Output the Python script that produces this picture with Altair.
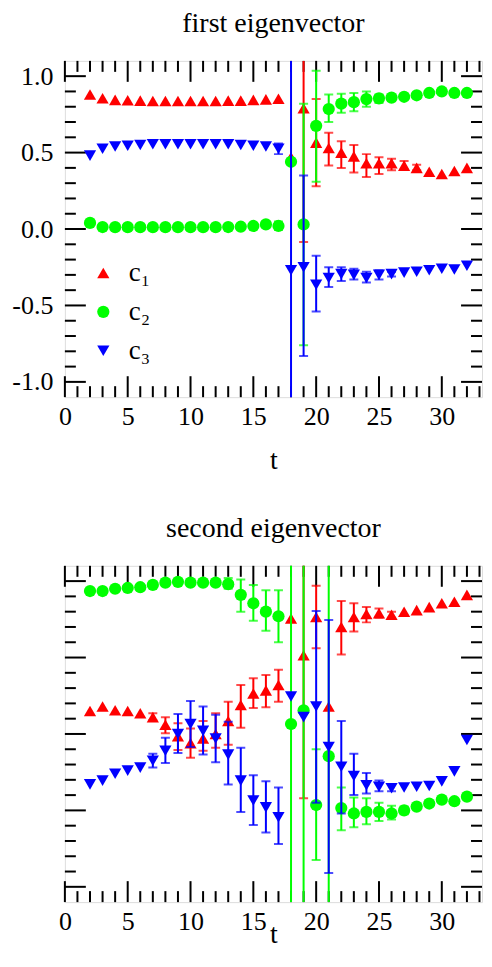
import altair as alt
import pandas as pd

# ---------------- data ----------------
T = list(range(2, 33))
SERIES = ["c₁", "c₂", "c₃"]
COLORS = ["#ff0000", "#00ff00", "#0000ff"]
SHAPES = ["triangle-up", "circle", "triangle-down"]

# first eigenvector
p1_c1 = [0.88, 0.855, 0.845, 0.842, 0.84, 0.838, 0.838, 0.838, 0.838, 0.838, 0.838, 0.84, 0.84, 0.845, 0.848, 0.852,
         0.47, 0.79, 0.565, 0.53, 0.50, 0.475, 0.43, 0.43, 0.43, 0.415, 0.40, 0.375, 0.36, 0.38, 0.40]
p1_c2 = [0.04, 0.013, 0.012, 0.012, 0.012, 0.012, 0.012, 0.012, 0.012, 0.012, 0.012, 0.013, 0.015, 0.02, 0.03, 0.02,
         0.44, 0.03, 0.675, 0.785, 0.82, 0.83, 0.85, 0.855, 0.86, 0.865, 0.875, 0.89, 0.90, 0.89, 0.89]
p1_c3 = [0.48, 0.525, 0.54, 0.545, 0.55, 0.555, 0.555, 0.555, 0.555, 0.555, 0.555, 0.555, 0.55, 0.545, 0.54, 0.525,
         -0.27, -0.25, -0.365, -0.32, -0.295, -0.30, -0.32, -0.30, -0.295, -0.285, -0.28, -0.27, -0.26, -0.265, -0.24]
p1_c1_err = {19: (-0.085, 1.4), 20: (0.28, 0.85), 21: (0.415, 0.63), 22: (0.40, 0.575), 23: (0.37, 0.55),
             24: (0.34, 0.49), 25: (0.36, 0.47), 26: (0.385, 0.46), 27: (0.39, 0.445), 28: (0.385, 0.42)}
p1_c2_err = {17: (-0.005, 0.05), 19: (-0.76, 0.82), 20: (0.31, 1.035), 21: (0.70, 0.88), 22: (0.76, 0.885),
             23: (0.77, 0.89), 24: (0.80, 0.90), 25: (0.825, 0.88), 26: (0.84, 0.875)}
p1_c3_err = {17: (0.49, 0.56), 18: (-1.5, 1.5), 19: (-0.83, 0.35), 20: (-0.54, -0.175), 21: (-0.38, -0.25),
             22: (-0.34, -0.25), 23: (-0.33, -0.26), 24: (-0.35, -0.28), 25: (-0.33, -0.27), 26: (-0.31, -0.28)}

# second eigenvector
p2_c1 = [0.15, 0.18, 0.155, 0.15, 0.135, 0.11, 0.06, -0.015, -0.06, -0.03, 0.0, 0.085, 0.19, 0.265, 0.285, 0.32,
         0.755, 0.515, 0.765, 0.18, 0.70, 0.765, 0.785, 0.79, 0.78, 0.80, 0.81, 0.83, 0.855, 0.865, 0.91]
p2_c2 = [0.935, 0.935, 0.95, 0.955, 0.96, 0.975, 0.99, 0.995, 0.99, 0.99, 0.99, 0.98, 0.91, 0.855, 0.80, 0.77,
         0.065, 0.155, -0.465, -0.145, -0.485, -0.52, -0.51, -0.51, -0.52, -0.50, -0.475, -0.455, -0.43, -0.44, -0.41]
p2_c3 = [-0.33, -0.305, -0.26, -0.24, -0.22, -0.175, -0.11, 0.0, 0.065, 0.02, -0.03, -0.135, -0.305, -0.435, -0.48, -0.545,
         0.245, 0.11, 0.18, -0.085, -0.215, -0.275, -0.335, -0.345, -0.355, -0.35, -0.345, -0.34, -0.31, -0.245, -0.04]
p2_c1_err = {7: (0.09, 0.135), 8: (0.005, 0.11), 9: (-0.105, 0.07), 10: (-0.155, 0.035), 11: (-0.11, 0.085),
             12: (-0.09, 0.135), 13: (-0.07, 0.21), 14: (0.04, 0.32), 15: (0.17, 0.365), 16: (0.175, 0.385),
             17: (0.21, 0.42), 19: (-0.42, 1.5), 20: (0.56, 0.97), 22: (0.52, 0.87), 23: (0.67, 0.855),
             24: (0.73, 0.83), 25: (0.76, 0.82), 26: (0.76, 0.80)}
p2_c2_err = {13: (0.95, 1.02), 14: (0.80, 1.01), 15: (0.74, 0.975), 16: (0.675, 0.94), 17: (0.60, 0.94),
             18: (-1.5, 1.5), 19: (-1.5, 1.5), 20: (-0.825, -0.10), 21: (-1.5, 1.5), 22: (-0.63, -0.35),
             23: (-0.61, -0.415), 24: (-0.59, -0.42), 25: (-0.57, -0.45), 26: (-0.56, -0.47), 27: (-0.525, -0.475)}
p2_c3_err = {7: (-0.22, -0.13), 8: (-0.19, -0.025), 9: (-0.125, 0.13), 10: (-0.085, 0.215), 11: (-0.135, 0.18),
             12: (-0.185, 0.125), 13: (-0.33, 0.08), 14: (-0.51, -0.09), 15: (-0.595, -0.27), 16: (-0.645, -0.31),
             17: (-0.72, -0.35), 20: (-0.45, 0.805), 21: (-0.91, 0.745), 22: (-0.52, 0.085), 23: (-0.40, -0.13),
             24: (-0.39, -0.255), 25: (-0.375, -0.305), 26: (-0.375, -0.33)}

X_LABELS = [0, 5, 10, 15, 20, 25, 30]
X_MINOR = list(range(0, 34))
Y_LABELS = [-1.0, -0.5, 0.0, 0.5, 1.0]
Y_MINOR = [round(-1.0 + 0.1 * i, 1) for i in range(21)]

# ---------------- layout ----------------
W, H = 418, 337
FONT = "Liberation Serif"
MAJ, MIN = 21, 11

xs = alt.Scale(domain=[0, 33.2], nice=False, zero=False)
ys = alt.Scale(domain=[-1.1, 1.1], nice=False, zero=False)
cscale = alt.Scale(domain=SERIES, range=COLORS)
sscale = alt.Scale(domain=SERIES, range=SHAPES)


def x_axis(tpad):
    return alt.Axis(values=X_LABELS, ticks=False, domain=False, grid=False, title="t",
                    labelFont=FONT, labelFontSize=26, labelPadding=6, labelColor="black",
                    titleFont=FONT, titleFontSize=28, titleFontWeight="normal", titlePadding=tpad,
                    titleColor="black", labelFlush=False)


def y_axis(labels):
    return alt.Axis(values=Y_LABELS, ticks=False, domain=False, grid=False, title=None,
                    labels=labels, labelFont=FONT, labelFontSize=26, labelPadding=12, labelColor="black",
                    labelExpr="replace(format(datum.value, '.1f'), '−', '-')",
                    minExtent=56, maxExtent=56)


def tick_layers(XA, YA):
    xmaj = pd.DataFrame({"x": X_LABELS})
    xmin = pd.DataFrame({"x": [v for v in X_MINOR if v % 5 != 0]})
    ymaj = pd.DataFrame({"y": Y_LABELS})
    ymin = pd.DataFrame({"y": [v for v in Y_MINOR if abs(v * 2 - round(v * 2)) > 1e-6]})
    out = []
    for df, ln in ((xmaj, MAJ), (xmin, MIN)):
        base = alt.Chart(df).mark_rule(color="black", strokeWidth=2)
        out.append(base.encode(x=alt.X("x:Q", scale=xs, axis=XA), y=alt.value(H), y2=alt.value(H - ln)))
        out.append(base.encode(x=alt.X("x:Q", scale=xs, axis=XA), y=alt.value(0), y2=alt.value(ln)))
    for df, ln in ((ymaj, MAJ), (ymin, MIN)):
        base = alt.Chart(df).mark_rule(color="black", strokeWidth=2)
        out.append(base.encode(y=alt.Y("y:Q", scale=ys, axis=YA), x=alt.value(0), x2=alt.value(ln)))
        out.append(base.encode(y=alt.Y("y:Q", scale=ys, axis=YA), x=alt.value(W), x2=alt.value(W - ln)))
    return out


def panel(title, vals, errs, labels, legend, tpad):
    XA, YA = x_axis(tpad), y_axis(labels)
    layers = tick_layers(XA, YA)
    for name, col, v, e in zip(SERIES, COLORS, vals, errs):
        pts = pd.DataFrame({"t": T, "v": v, "s": name})
        edf = pd.DataFrame({"t": list(e.keys()), "lo": [a for a, b in e.values()],
                            "hi": [b for a, b in e.values()]})
        layers.append(alt.Chart(edf).mark_rule(color=col, strokeWidth=2, clip=True).encode(
            x=alt.X("t:Q", scale=xs, axis=XA), y=alt.Y("lo:Q", scale=ys, axis=YA), y2="hi:Q"))
        for fld in ("lo", "hi"):
            layers.append(alt.Chart(edf).mark_tick(color=col, thickness=2, size=9, orient="horizontal",
                                                   clip=True).encode(
                x=alt.X("t:Q", scale=xs, axis=XA), y=alt.Y(f"{fld}:Q", scale=ys, axis=YA)))
        lg = alt.Legend(title=None, orient="none", legendX=25, legendY=199, labelFont=FONT,
                        labelFontSize=27, symbolSize=150, rowPadding=11, padding=0, labelOffset=12,
                        labelColor="black") if legend else None
        layers.append(alt.Chart(pts).mark_point(filled=True, size=150, opacity=1, clip=True).encode(
            x=alt.X("t:Q", scale=xs, axis=XA),
            y=alt.Y("v:Q", scale=ys, axis=YA),
            color=alt.Color("s:N", scale=cscale, legend=lg),
            shape=alt.Shape("s:N", scale=sscale, legend=lg)))
    return alt.layer(*layers).properties(
        width=W, height=H,
        title=alt.TitleParams(title, font=FONT, fontSize=28, fontWeight="normal", anchor="middle",
                              color="black", offset=22))


top = panel("first eigenvector", [p1_c1, p1_c2, p1_c3], [p1_c1_err, p1_c2_err, p1_c3_err], True, True, 17)
bottom = panel("second eigenvector", [p2_c1, p2_c2, p2_c3], [p2_c1_err, p2_c2_err, p2_c3_err], False, False, -14)

chart = alt.vconcat(top, bottom, spacing=39).properties(
    padding={"left": 0, "top": 0, "right": 0, "bottom": 0}
).configure_view(stroke="black", strokeWidth=2).configure_axis(
    labelFont=FONT, titleFont=FONT
).configure_legend(labelFont=FONT).configure(background="white")

chart.save("out.html", embed_options={"renderer": "svg", "actions": False})
